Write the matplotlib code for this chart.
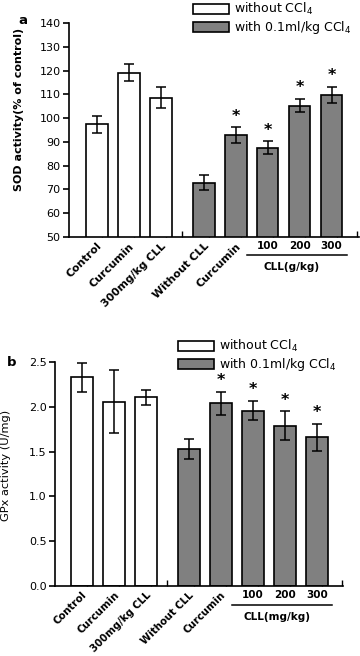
import matplotlib
matplotlib.use('Agg')
import matplotlib.pyplot as plt
import matplotlib.transforms as mtransforms
from matplotlib.patches import Patch

# Group labels (first five rotated, last three are CLL doses)
groups = ['Control', 'Curcumin', '300mg/kg CLL', 'Without CLL', 'Curcumin', '100', '200', '300']
with_ccl4 = [False, False, False, True, True, True, True, True]
significant = [False, False, False, False, True, True, True, True]

# Panel a: SOD activity (% of control)
sod_mean = [97.5, 119.1, 108.6, 72.8, 92.8, 87.6, 105.3, 109.8]
sod_err = [3.6, 3.6, 4.5, 3.2, 3.3, 2.6, 2.9, 3.5]
sod_ticks = [50, 60, 70, 80, 90, 100, 110, 120, 130, 140]

# Panel b: GPx activity (U/mg)
gpx_mean = [2.33, 2.06, 2.11, 1.53, 2.04, 1.96, 1.79, 1.66]
gpx_err = [0.16, 0.35, 0.085, 0.11, 0.13, 0.11, 0.165, 0.15]
gpx_ticks = [0.0, 0.5, 1.0, 1.5, 2.0, 2.5]

legend_labels = ['without CCl$_4$', 'with 0.1ml/kg CCl$_4$']

# Layout: bar slots, with a wider gap before the CCl4 groups
POSITIONS = [0, 1, 2, 3.34, 4.34, 5.34, 6.34, 7.34]
MINOR_TICKS = [p + 0.16 for p in POSITIONS] + [2.66, 8.13]
GREY = '#808080'
LW = 1.2

plt.rcParams['font.family'] = ['DejaVu Sans']


def draw_panel(ax, means, errs, ylim, yticks, ytick_fmt, dose_label, label_size):
	colors = [GREY if c else 'white' for c in with_ccl4]
	ax.bar(POSITIONS, means, width=0.68, color=colors, edgecolor='black',
		linewidth=LW, zorder=2)
	ax.errorbar(POSITIONS, means, yerr=errs, fmt='none', ecolor='black',
		elinewidth=1.1, capsize=3.6, capthick=1.1, zorder=3)

	# significance stars above the error bars
	for x, m, e, s in zip(POSITIONS, means, errs, significant):
		if s:
			ax.annotate('*', (x, m + e), xytext=(0, 2.5), textcoords='offset points',
				ha='center', va='bottom', fontsize=11.5, fontweight='bold')

	ax.set_ylim(*ylim)
	ax.set_yticks(yticks)
	ax.set_yticklabels([ytick_fmt.format(t) for t in yticks], fontsize=8)
	ax.tick_params(axis='y', direction='out', length=4, width=LW, pad=2)

	# x axis: labels on bar slots, small inward ticks beside them
	ax.set_xticks(POSITIONS)
	ax.set_xticklabels(groups, fontsize=label_size, fontweight='bold')
	ax.tick_params(axis='x', which='major', length=0, pad=3)
	for i, lab in enumerate(ax.get_xticklabels()):
		if i < 5:
			lab.set_rotation(45)
			lab.set_ha('right')
			lab.set_va('top')
			lab.set_rotation_mode('anchor')
		else:
			lab.set_fontsize(7.5)
	ax.set_xticks(MINOR_TICKS, minor=True)
	ax.tick_params(axis='x', which='minor', direction='in', length=4, width=1.0)

	for side in ['top', 'right']:
		ax.spines[side].set_visible(False)
	for side in ['left', 'bottom']:
		ax.spines[side].set_linewidth(LW)

	# underline for the CLL dose groups
	trans = mtransforms.blended_transform_factory(ax.transData, ax.transAxes)
	ax.plot([4.69, 7.83], [-0.088, -0.088], color='black', linewidth=1.1,
		transform=trans, clip_on=False)
	ax.text(6.1, -0.142, dose_label, transform=trans, ha='center', va='center',
		fontsize=7.5, fontweight='bold')


fig = plt.figure(figsize=(3.6, 6.56), dpi=100)

# Panel a
ax1 = fig.add_axes([69 / 360, 1 - 236.7 / 656, 290 / 360, 213.4 / 656])
draw_panel(ax1, sod_mean, sod_err, (50, 140), sod_ticks, '{:d}', 'CLL(g/kg)', 7.8)
ax1.set_xlim(-0.875, 8.2)
ax1.set_ylabel('SOD activity(% of control)', fontsize=8, fontweight='bold')
ax1.yaxis.set_label_coords(-0.155, 0.598)
fig.text(23 / 360, 1 - 20 / 656, 'a', fontsize=9.5, fontweight='bold',
	ha='center', va='center')

# Panel b
ax2 = fig.add_axes([55 / 360, 1 - 585.7 / 656, 288 / 360, 223.4 / 656])
draw_panel(ax2, gpx_mean, gpx_err, (0, 2.5), gpx_ticks, '{:.1f}', 'CLL(mg/kg)', 7.3)
ax2.set_xlim(-0.84, 8.16)
ax2.set_ylabel('GPx activity (U/mg)', fontsize=8.2)
ax2.yaxis.set_label_coords(-0.152, 0.54)
fig.text(12 / 360, 1 - 363 / 656, 'b', fontsize=9.5, fontweight='bold',
	ha='center', va='center')

# Legends
handles = [Patch(facecolor='white', edgecolor='black', linewidth=LW),
	Patch(facecolor=GREY, edgecolor='black', linewidth=LW)]
for x0, y0 in [(193 / 360, 1 - 1 / 656), (178 / 360, 1 - 338 / 656)]:
	fig.legend(handles, legend_labels, loc='upper left', bbox_to_anchor=(x0, y0),
		frameon=False, fontsize=9, handlelength=2.9, handleheight=0.85,
		handletextpad=0.4, labelspacing=0.15, borderpad=0, borderaxespad=0)

fig.savefig('out.png', dpi=100)
